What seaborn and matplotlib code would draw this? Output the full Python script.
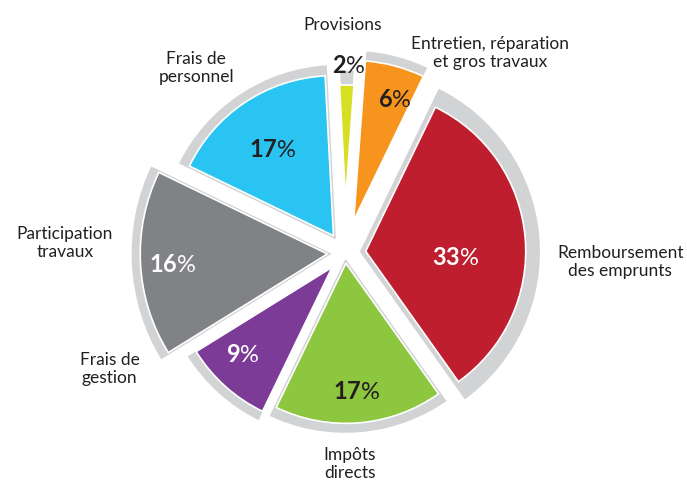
"""
Répartition des charges - camembert éclaté avec ombre grise
"""

import numpy as np
import matplotlib
matplotlib.use('Agg')
import matplotlib.pyplot as plt
import seaborn as sns

# données
categories = ['Provisions', 'Entretien, réparation\net gros travaux',
              'Remboursement\ndes emprunts', 'Impôts\ndirects',
              'Frais de\ngestion', 'Participation\ntravaux', 'Frais de\npersonnel']
shares = [2, 6, 33, 17, 9, 16, 17]
pct_labels = ['2', '6', '33', '17', '9', '16', '17']

# style
colors = ['#d7df23', '#f7941d', '#be1e2d', '#8dc63f', '#7b3b96', '#808285', '#29c4f2']
text_colors = ['#231f20', '#231f20', 'white', '#231f20', 'white', 'white', '#231f20']
shadow_color = '#d1d3d4'
explode = [0.33, 0.21, 0.13, 0.065, 0.12, 0.11, 0.13]
radii = [0.72, 1.0, 1.0, 1.0, 1.0, 1.17, 1.0]
band = [0.10, 0.07, 0.10, 0.07, 0.07, 0.065, 0.07]

# positions des textes (unités du graphique, 1 = rayon principal)
pct_pos = [(0.025, 1.17), (0.31, 0.955), (0.69, -0.03), (0.075, -0.87),
           (-0.64, -0.64), (-1.08, -0.075), (-0.45, 0.645)]
label_pos = [(-0.0125, 1.425), (0.906, 1.25), (1.72, -0.055), (0.03, -1.32),
             (-1.47, -0.725), (-1.75, 0.0625), (-0.93, 1.155)]

sns.set_style('white')
plt.rcParams['font.family'] = ['Lato', 'DejaVu Sans']
plt.rcParams['mathtext.fontset'] = 'custom'
plt.rcParams['mathtext.bf'] = 'Lato:bold'
plt.rcParams['mathtext.rm'] = 'Lato'

fig = plt.figure(figsize=(6.87, 4.8), dpi=100)
ax = fig.add_axes([0, 0, 1, 1])

# ombre grise derrière chaque part
shadow_explode = [max(e - 0.05, 0.0) for e in explode]
shadow_wedges, _ = ax.pie(shares, explode=shadow_explode, startangle=93,
                          counterclock=False, colors=[shadow_color] * len(shares),
                          wedgeprops={'edgecolor': 'white', 'linewidth': 2.6})
for w, e, es, r, b in zip(shadow_wedges, explode, shadow_explode, radii, band):
    w.set_radius(e + r + b - es)

# parts colorées
wedges, _ = ax.pie(shares, explode=explode, startangle=93, counterclock=False,
                   colors=colors, wedgeprops={'edgecolor': 'white', 'linewidth': 1.2})
for w, r in zip(wedges, radii):
    w.set_radius(r)
    w.set_zorder(3)

# chiffres en gras, signe % en normal
for (x, y), txt, c in zip(pct_pos, pct_labels, text_colors):
    ax.text(x, y, r'$\mathbf{' + txt + r'}$%', ha='center', va='center',
            fontsize=17, color=c, zorder=5)

for (x, y), txt in zip(label_pos, categories):
    ax.text(x, y, txt, ha='center', va='center', fontsize=12.5,
            color='#231f20', linespacing=1.15, zorder=5)

ax.set_xlim(-345 / 160, (687 - 345) / 160)
ax.set_ylim(-(480 - 253) / 160, 253 / 160)
ax.set_aspect('equal', adjustable='datalim')
ax.axis('off')

plt.savefig('out.png', dpi=100)
